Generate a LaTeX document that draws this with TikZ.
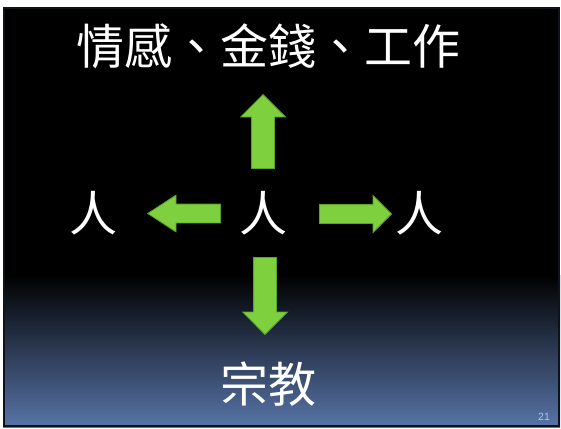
\documentclass[tikz,border=0pt]{standalone}
\usepackage{fontspec}
\newfontfamily\cjk{Noto Sans CJK TC}
\newfontfamily\numfont{Liberation Sans}
\usetikzlibrary{positioning}
\usetikzlibrary{shapes.arrows}

\definecolor{slideblue}{RGB}{88,116,168}
\definecolor{slideedge}{RGB}{14,18,26}
\definecolor{arrowgreen}{RGB}{126,208,62}
\definecolor{arrowedge}{RGB}{92,165,42}
\definecolor{pagenum}{RGB}{178,196,226}

\tikzset{
  bigtext/.style={font=\cjk\fontsize{48}{48}\selectfont,text=white,inner sep=0pt,anchor=center},
  greenarrow/.style={single arrow,draw=arrowedge,fill=arrowgreen,line width=0.8pt,anchor=tip},
  vertarrow/.style={greenarrow,inner xsep=11pt,inner ysep=0pt,single arrow head extend=11pt},
  sidearrow/.style={greenarrow,inner xsep=0pt,inner ysep=9pt,single arrow head extend=9pt}
}

\begin{document}
\begin{tikzpicture}[x=1pt,y=-1pt]
\useasboundingbox (0,0) rectangle (561,428);
% slide background
\fill[black] (3,7) rectangle (560,275);
\shade[top color=black,bottom color=slideblue] (3,275) rectangle (560,427);
\draw[slideedge,line width=2pt] (4,8) rectangle (559,426);

% texts
\node[bigtext] (top) at (268,46) {情感、金錢、工作};
\node[bigtext] (mid) at (263,213) {人};
\node[bigtext] (left) at (93,213) {人};
\node[bigtext] (right) at (419,213) {人};
\node[bigtext] (bottom) at (268,384) {宗教};
\node[font=\numfont\fontsize{10.5}{10.5}\selectfont,text=pagenum,anchor=center] (num) at (544,417) {21};

% arrows
\node[vertarrow,minimum height=74pt,shape border rotate=90] (up) at (263,94) {};
\node[vertarrow,minimum height=77pt,shape border rotate=270] (down) at (265,335) {};
\node[sidearrow,minimum height=73pt,shape border rotate=180,single arrow tip angle=66] (west) at (147,213.5) {};
\node[sidearrow,minimum height=72pt] (east) at (392,214) {};

\end{tikzpicture}
\end{document}
